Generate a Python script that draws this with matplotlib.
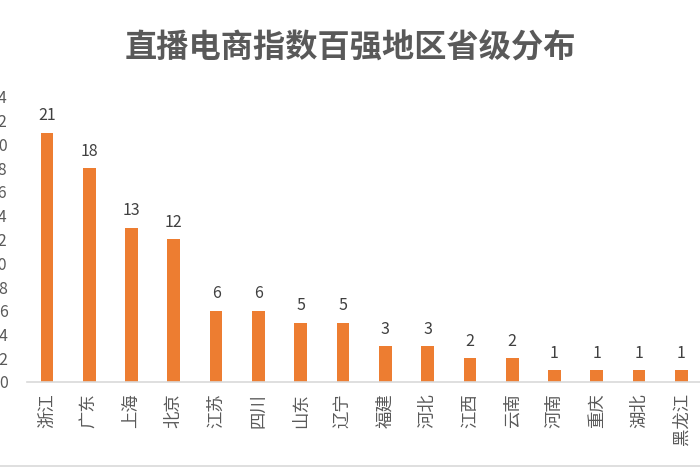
import matplotlib
matplotlib.use("Agg")
import matplotlib.pyplot as plt
from matplotlib.lines import Line2D

plt.rcParams['font.family'] = ['Noto Sans CJK SC', 'DejaVu Sans']

title = "直播电商指数百强地区省级分布"
provinces = ["浙江", "广东", "上海", "北京", "江苏", "四川", "山东", "辽宁",
             "福建", "河北", "江西", "云南", "河南", "重庆", "湖北", "黑龙江"]
counts = [21, 18, 13, 12, 6, 6, 5, 5, 3, 3, 2, 2, 1, 1, 1, 1]
yticks = list(range(0, 26, 2))

W, H = 700, 470
fig = plt.figure(figsize=(7, 4.7), dpi=100)
fig.patch.set_facecolor("white")

left_px, x0_px = 27, 382
unit_px = (382 - 97) / 24.0
ax_h_px = 24.0 * unit_px
xmin, xmax = -0.47, 15.5
step_px = 42.3
ax_w_px = (xmax - xmin) * step_px
ax = fig.add_axes([left_px / W, (H - x0_px) / H, ax_w_px / W, ax_h_px / H])

x = list(range(len(provinces)))
ax.bar(x, counts, width=0.30, color="#ED7D31", zorder=2)
for xi, v in zip(x, counts):
    ax.annotate(str(v), (xi, v), xytext=(0, 6), textcoords="offset points",
                ha="center", va="bottom", fontsize=11.5, color="#404040")

ax.set_xlim(xmin, xmax)
ax.set_ylim(0, 24)
ax.set_yticks(yticks)
ax.set_yticklabels([str(t) for t in yticks])
ax.set_xticks(x)
ax.set_xticklabels(provinces, rotation=90, fontsize=12.5, color="#595959")
ax.tick_params(axis="y", length=0, pad=14, labelsize=11.5, labelcolor="#595959")
ax.tick_params(axis="x", length=0, pad=8)
for s in ["top", "right", "left"]:
    ax.spines[s].set_visible(False)
ax.spines["bottom"].set_color("#D9D9D9")
ax.spines["bottom"].set_linewidth(1.2)

fig.text(0.5, 1 - 48 / H, title, ha="center", va="center",
         fontsize=23.2, fontweight="bold", color="#595959")

fig.add_artist(Line2D([0, 1], [1 - 466 / H, 1 - 466 / H], color="#D9D9D9",
                      lw=1.2, transform=fig.transFigure))

fig.savefig("out.png", dpi=100, facecolor="white")
